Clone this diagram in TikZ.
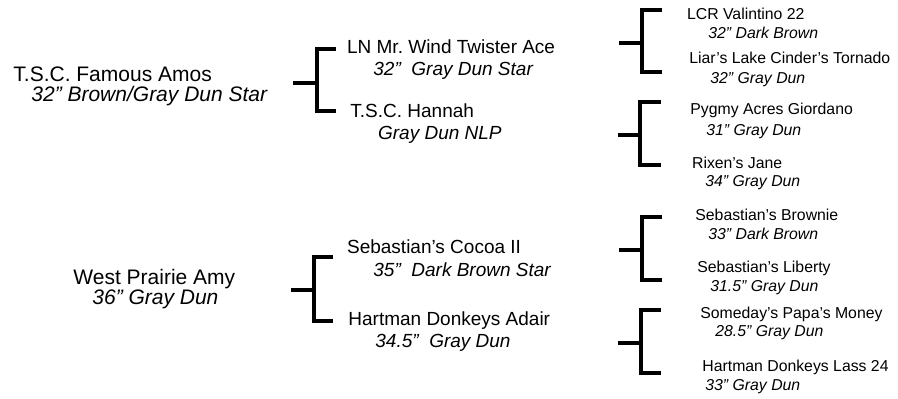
\documentclass[tikz,border=0pt]{standalone}
\usepackage{fontspec}
\setmainfont{Liberation Sans}
\frenchspacing
\begin{document}
\begin{tikzpicture}[
  x=0.5pt, y=-0.5pt,
  horse/.style={anchor=base west, inner sep=0pt},
  gen1/.style={horse, font=\fontsize{10.5}{12}\selectfont},
  gen1i/.style={horse, font=\fontsize{10.5}{12}\selectfont\itshape},
  gen2/.style={horse, font=\fontsize{9.5}{11}\selectfont},
  gen2i/.style={horse, font=\fontsize{9.5}{11}\selectfont\itshape},
  gen3/.style={horse, font=\fontsize{7.9}{10}\selectfont},
  gen3i/.style={horse, font=\fontsize{7.9}{10}\selectfont\itshape},
  bracket/.style={line width=2pt, line join=miter}
]
  \useasboundingbox (0,0) rectangle (898,398);

  % first generation
  \node[gen1] (amos) at (13,81.7) {T.S.C. Famous Amos};
  \node[gen1i] (amos-d) at (31,101) {32” Brown/Gray Dun Star};
  \node[gen1] (amy) at (73,284.7) {West Prairie Amy};
  \node[gen1i] (amy-d) at (92,304.7) {36” Gray Dun};

  % second generation
  \node[gen2] (wind) at (346.7,53.5) {LN Mr. Wind Twister Ace};
  \node[gen2i] (wind-d) at (373,75) {32”\ \ Gray Dun Star};
  \node[gen2] (hannah) at (350,117.5) {T.S.C. Hannah};
  \node[gen2i] (hannah-d) at (377.7,139) {Gray Dun NLP};
  \node[gen2] (cocoa) at (346.7,253.5) {Sebastian’s Cocoa II};
  \node[gen2i] (cocoa-d) at (373,276) {35”\ \ Dark Brown Star};
  \node[gen2] (adair) at (348,325.5) {Hartman Donkeys Adair};
  \node[gen2i] (adair-d) at (375,347) {34.5”\ \ Gray Dun};

  % third generation
  \node[gen3] (valintino) at (686.7,19.4) {LCR Valintino 22};
  \node[gen3i] (valintino-d) at (708,38) {32” Dark Brown};
  \node[gen3] (tornado) at (689,63) {Liar’s Lake Cinder’s Tornado};
  \node[gen3i] (tornado-d) at (710,83.7) {32” Gray Dun};
  \node[gen3] (giordano) at (690,114.7) {Pygmy Acres Giordano};
  \node[gen3i] (giordano-d) at (706,135.7) {31” Gray Dun};
  \node[gen3] (jane) at (691.7,168) {Rixen’s Jane};
  \node[gen3i] (jane-d) at (705,186.4) {34” Gray Dun};
  \node[gen3] (brownie) at (695,220.7) {Sebastian’s Brownie};
  \node[gen3i] (brownie-d) at (708,239.7) {33” Dark Brown};
  \node[gen3] (liberty) at (697,272.4) {Sebastian’s Liberty};
  \node[gen3i] (liberty-d) at (710,291.4) {31.5” Gray Dun};
  \node[gen3] (money) at (700,318.7) {Someday’s Papa’s Money};
  \node[gen3i] (money-d) at (715,336.4) {28.5” Gray Dun};
  \node[gen3] (lass) at (702,371) {Hartman Donkeys Lass 24};
  \node[gen3i] (lass-d) at (705,390) {33” Gray Dun};

  % bracket ends
  \coordinate (amos-out) at (293,83);
  \coordinate (wind-in) at (336,49);
  \coordinate (hannah-in) at (336,111);
  \coordinate (amy-out) at (291,290);
  \coordinate (cocoa-in) at (333,257);
  \coordinate (adair-in) at (333,321);
  \coordinate (wind-out) at (619,42.7);
  \coordinate (valintino-in) at (661.7,10);
  \coordinate (tornado-in) at (661.7,71.7);
  \coordinate (hannah-out) at (618.3,135);
  \coordinate (giordano-in) at (660.7,101.7);
  \coordinate (jane-in) at (660.7,165.3);
  \coordinate (cocoa-out) at (619.3,250);
  \coordinate (brownie-in) at (661.7,216.7);
  \coordinate (liberty-in) at (661.7,280.3);
  \coordinate (adair-out) at (618.3,342.7);
  \coordinate (money-in) at (661,309.7);
  \coordinate (lass-in) at (661,372.7);

  % brackets
  \draw[bracket] (amos-out) -- ++(24,0);
  \draw[bracket] (wind-in) -- ++(-19,0) |- (hannah-in);
  \draw[bracket] (amy-out) -- ++(23,0);
  \draw[bracket] (cocoa-in) -- ++(-19,0) |- (adair-in);
  \draw[bracket] (wind-out) -- ++(22.7,0);
  \draw[bracket] (valintino-in) -- ++(-20,0) |- (tornado-in);
  \draw[bracket] (hannah-out) -- ++(22,0);
  \draw[bracket] (giordano-in) -- ++(-20.4,0) |- (jane-in);
  \draw[bracket] (cocoa-out) -- ++(22.4,0);
  \draw[bracket] (brownie-in) -- ++(-20,0) |- (liberty-in);
  \draw[bracket] (adair-out) -- ++(22.7,0);
  \draw[bracket] (money-in) -- ++(-20,0) |- (lass-in);
\end{tikzpicture}
\end{document}
